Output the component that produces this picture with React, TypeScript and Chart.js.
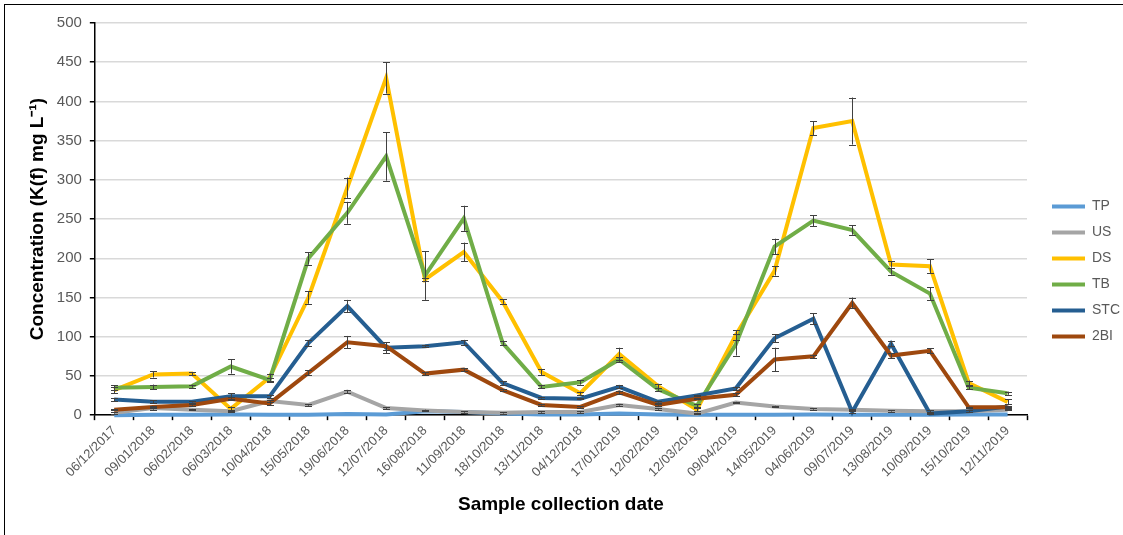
import React, { useEffect, useRef } from "react";
import { Chart, registerables } from "chart.js";

Chart.register(...registerables);

const FONT = "'Liberation Sans', Arial, sans-serif";

const dates = [
  "06/12/2017", "09/01/2018", "06/02/2018", "06/03/2018", "10/04/2018", "15/05/2018",
  "19/06/2018", "12/07/2018", "16/08/2018", "11/09/2018", "18/10/2018", "13/11/2018",
  "04/12/2018", "17/01/2019", "12/02/2019", "12/03/2019", "09/04/2019", "14/05/2019",
  "04/06/2019", "09/07/2019", "13/08/2019", "10/09/2019", "15/10/2019", "12/11/2019",
];

const yTicks = [0, 50, 100, 150, 200, 250, 300, 350, 400, 450, 500];

const seriesNames = ["TP", "US", "DS", "TB", "STC", "2BI"];
const seriesColors = ["#5B9BD5", "#A5A5A5", "#FFC000", "#70AD47", "#255E91", "#9E480E"];

const tpValues = [0, 0.5, 0.5, 1, 0.5, 0.5, 1.5, 1, 5, 4, 2, 1, 1, 2, 1, 0.5, 0.5, 0.5, 1, 0.5, 0.5, 0.5, 1, 1];
const usValues = [3, 9, 7, 5, 18, 13, 30, 9, 6, 4, 3, 4, 4, 13, 8, 2, 16, 11, 8, 7, 5.5, 5, 5, 7];
const dsValues = [32, 52, 53, 8, 48, 150, 290, 430, 173, 208, 145, 55, 28, 78, 37, 7, 102, 184, 366, 375, 192, 190, 41, 17];
const tbValues = [35, 36, 37, 62, 45, 200, 258, 330, 178, 251, 92, 36, 42, 71, 33, 12, 90, 215, 248, 236, 183, 155, 35, 28];
const stcValues = [20, 17, 17, 24, 24, 92, 139, 86, 88, 93, 41, 22, 21, 36, 17, 25, 34, 98, 123, 4, 91, 2, 5, 11];
const biValues = [7, 10.5, 13, 21, 15, 54, 93, 88, 53, 58, 32, 13, 10.5, 29, 13, 21, 26, 71, 75, 143, 76, 82, 10, 10];

const tpErrors = [0, 0, 0, 0, 0, 0, 0, 0, 0, 0, 0, 0, 0, 0, 0, 0, 0, 0, 0, 0, 0, 0, 0, 0];
const usErrors = [1, 2, 1, 1, 1, 1, 2, 1, 1, 1, 1, 1, 1, 1, 1, 1, 1, 1, 1, 1, 1, 1, 1, 1];
const dsErrors = [4, 4, 2, 3, 5, 8, 13, 20, 2, 12, 3, 4, 2, 8, 3, 2, 6, 6, 9, 30, 4, 9, 3, 3];
const tbErrors = [3, 3, 2, 9, 3, 8, 14, 31, 31, 16, 3, 2, 3, 3, 2, 2, 14, 10, 7, 6, 4, 8, 2, 2];
const stcErrors = [2, 2, 1, 4, 2, 4, 8, 7, 1, 3, 2, 1, 1, 2, 1, 1, 2, 5, 7, 1, 3, 1, 1, 1];
const biErrors = [1, 1, 1, 2, 2, 3, 8, 5, 2, 2, 1, 1, 1, 2, 1, 1, 2, 15, 2, 7, 3, 3, 1, 1];

const seriesValues = [tpValues, usValues, dsValues, tbValues, stcValues, biValues];
const seriesErrors = [tpErrors, usErrors, dsErrors, tbErrors, stcErrors, biErrors];

const errorBarPlugin = {
  id: "errorBars",
  afterDatasetsDraw(chart: any) {
    const ctx = chart.ctx;
    const yScale = chart.scales.y;
    const area = chart.chartArea;
    ctx.save();
    ctx.beginPath();
    ctx.rect(area.left, area.top - 2, area.right - area.left, area.bottom - area.top + 2);
    ctx.clip();
    ctx.strokeStyle = "#404040";
    ctx.lineWidth = 1;
    chart.data.datasets.forEach((ds: any, i: number) => {
      const errs: number[] | undefined = ds.errors;
      if (!errs) return;
      const meta = chart.getDatasetMeta(i);
      meta.data.forEach((pt: any, j: number) => {
        const e = errs[j];
        if (!e) return;
        const v = ds.data[j];
        const x = Math.round(pt.x) + 0.5;
        const yTop = yScale.getPixelForValue(v + e);
        const yBot = yScale.getPixelForValue(v - e);
        ctx.beginPath();
        ctx.moveTo(x, yTop);
        ctx.lineTo(x, yBot);
        ctx.moveTo(x - 3.5, Math.round(yTop) + 0.5);
        ctx.lineTo(x + 3.5, Math.round(yTop) + 0.5);
        ctx.moveTo(x - 3.5, Math.round(yBot) + 0.5);
        ctx.lineTo(x + 3.5, Math.round(yBot) + 0.5);
        ctx.stroke();
      });
    });
    ctx.restore();
  },
};

export default function App() {
  const canvasRef = useRef<HTMLCanvasElement | null>(null);

  useEffect(() => {
    if (!canvasRef.current) return;
    const datasets = seriesNames.map((name, i) => ({
      label: name,
      data: seriesValues[i],
      errors: seriesErrors[i],
      borderColor: seriesColors[i],
      backgroundColor: seriesColors[i],
      borderWidth: 4,
      pointRadius: 0,
      pointHoverRadius: 0,
      tension: 0,
      fill: false,
      clip: false,
      order: seriesNames.length - i,
      yAxisID: "y",
    }));

    const chart = new Chart(canvasRef.current, {
      type: "line",
      data: { labels: dates, datasets: datasets as any },
      options: {
        animation: false,
        responsive: false,
        maintainAspectRatio: false,
        devicePixelRatio: 1,
        layout: { padding: { left: 22, top: 23, right: -7, bottom: 15 } },
        plugins: {
          tooltip: { enabled: false },
          legend: {
            position: "right",
            align: "center",
            labels: {
              usePointStyle: true,
              pointStyle: "line",
              pointStyleWidth: 33,
              color: "#595959",
              font: { family: FONT, size: 14 },
              padding: 12,
              sort: (a: any, b: any) => a.datasetIndex - b.datasetIndex,
            },
          },
        },
        scales: {
          x: {
            type: "category",
            offset: true,
            grid: {
              display: true,
              drawOnChartArea: false,
              drawTicks: true,
              tickLength: 5,
              tickColor: "#000",
              tickWidth: 1.5,
              offset: true,
            },
            border: { display: true, color: "#000", width: 1.5 },
            ticks: {
              color: "#595959",
              font: { family: FONT, size: 13 },
              minRotation: 45,
              maxRotation: 45,
              autoSkip: false,
              padding: 3,
            },
            title: {
              display: true,
              text: "Sample collection date",
              color: "#000",
              font: { family: FONT, size: 19, weight: "bold" },
              padding: { top: 10, bottom: 4 },
            },
          },
          y: {
            type: "linear",
            position: "left",
            min: yTicks[0],
            max: yTicks[yTicks.length - 1],
            afterBuildTicks: (scale: any) => {
              scale.ticks = yTicks.map((v) => ({ value: v }));
            },
            ticks: {
              color: "#595959",
              font: { family: FONT, size: 15 },
              padding: 8,
            },
            grid: {
              color: "#D9D9D9",
              lineWidth: 1.5,
              drawTicks: true,
              tickLength: 5,
              tickColor: "#000",
              tickWidth: 1.5,
            },
            border: { display: true, color: "#000", width: 1.5 },
            title: {
              display: true,
              text: "Concentration (K(f) mg L\u207B\u00B9)",
              color: "#000",
              font: { family: FONT, size: 19, weight: "bold" },
              padding: { top: 4, bottom: 0 },
            },
          },
          y2: {
            type: "linear",
            position: "right",
            display: true,
            grid: {
              display: true,
              drawOnChartArea: false,
              drawTicks: true,
              tickLength: 13,
              color: "rgba(0,0,0,0)",
            },
            ticks: { display: false },
            border: { display: false },
          },
        },
      },
      plugins: [errorBarPlugin],
    } as any);

    return () => chart.destroy();
  }, []);

  return (
    <div
      style={{
        position: "fixed",
        left: 0,
        top: 0,
        width: 1123,
        height: 535,
        background: "#fff",
        overflow: "hidden",
      }}
    >
      <canvas ref={canvasRef} width={1123} height={535} style={{ display: "block" }} />
      <div
        style={{
          position: "absolute",
          left: 4,
          top: 4,
          width: 1200,
          height: 600,
          borderLeft: "1px solid #000",
          borderTop: "1px solid #000",
          pointerEvents: "none",
        }}
      />
    </div>
  );
}
